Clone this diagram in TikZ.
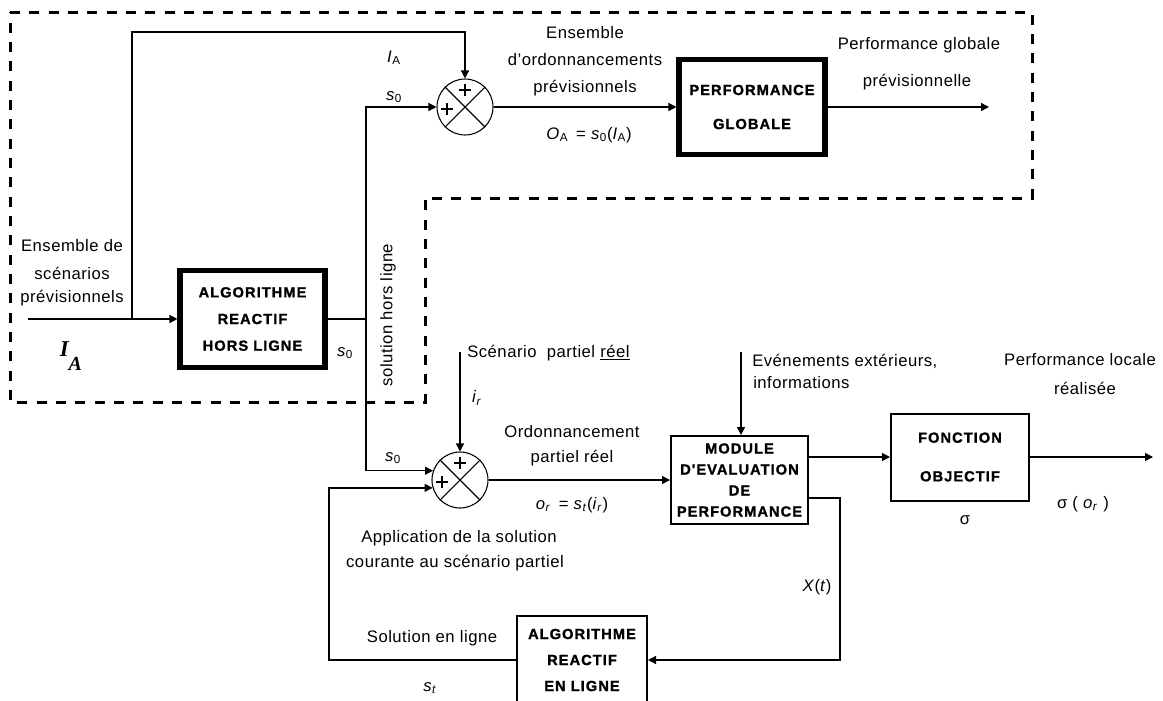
\documentclass[tikz,border=0pt]{standalone}
\usepackage{fontspec}
\setmainfont{Liberation Sans}[LetterSpace=3.0]
\newfontfamily\boxfont{Liberation Sans Bold}[LetterSpace=7.0, FakeBold=1.2]
\newfontfamily\serifbi{Liberation Serif}
\usetikzlibrary{arrows.meta,calc}
\newcommand\vsb[2]{\textit{#1}\textsubscript{#2}}
\tikzset{
  conn/.style={line width=1pt, -{Triangle[length=6pt,width=6pt]}},
  wire/.style={line width=1pt},
  thickbox/.style={draw, line width=3.8pt, align=center, inner sep=0pt},
  thinbox/.style={draw, line width=1.5pt, align=center, inner sep=0pt},
  bfont/.style={font=\boxfont\fontsize{11}{#1}\selectfont},
  sumnode/.style={circle, draw, line width=0.8pt, minimum size=42pt, inner sep=0pt},
  lbl/.style={font=\fontsize{12.5}{15}\selectfont, inner sep=0pt},
  boundary/.style={line width=2.25pt, dash pattern=on 7.5pt off 7pt},
  plusmark/.style={line width=0.9pt},
}
\begin{document}
\begin{tikzpicture}[x=0.75pt,y=-0.75pt]
\clip (0,0) rectangle (1163,700);
\fill[white] (0,0) rectangle (1163,700);

% dashed boundary
\draw[boundary] (10,12) -- (1032,12) -- (1032,198) -- (425,198) -- (425,402) -- (10,402) -- cycle;

% summing junctions
\node[sumnode] (sumA) at (465,107) {};
\node[sumnode] (sumB) at (460,480) {};
\foreach \s in {sumA,sumB}{
  \draw[line width=0.8pt] (\s.45) -- (\s.225) (\s.135) -- (\s.315);
  \draw[plusmark] ($(\s)+(-6,-17)$) -- ($(\s)+(6,-17)$) ($(\s)+(0,-23)$) -- ($(\s)+(0,-11)$);
  \draw[plusmark] ($(\s)+(-24,2)$) -- ($(\s)+(-12,2)$) ($(\s)+(-18,-4)$) -- ($(\s)+(-18,8)$);
}

% boxes
\node[thickbox, bfont=25.5pt, minimum width=109.5pt, minimum height=71.25pt] (perf) at (752,107) {PERFORMANCE\\GLOBALE};
\node[thickbox, bfont=20pt, minimum width=108.75pt, minimum height=72.75pt] (hl) at (252.5,319) {ALGORITHME\\REACTIF\\HORS LIGNE};
\node[thinbox, bfont=15.75pt, minimum width=102.75pt, minimum height=66pt] (module) at (739.5,480) {MODULE\\D'EVALUATION\\DE\\PERFORMANCE};
\node[thinbox, bfont=29pt, minimum width=103.5pt, minimum height=65.25pt] (fn) at (960,457) {FONCTION\\OBJECTIF};
\node[thinbox, bfont=19.5pt, minimum width=97.5pt, minimum height=66pt] (online) at (582,660) {ALGORITHME\\REACTIF\\EN LIGNE};

% coordinates
\coordinate (inA) at (28,319);
\coordinate (brA) at (132,319);
\coordinate (topR) at (465,32);
\coordinate (j1) at (366,319);
\coordinate (out1) at (989,107);
\coordinate (scTop) at (460,352);
\coordinate (evTop) at (741,352);
\coordinate (out2) at (1153,457);
\coordinate (xs) at (808,498);
\coordinate (xcorner) at (840,580);
\coordinate (fbc) at (329,560);

% connectors
\draw[conn] (inA) -- (hl.west);
\draw[conn] (brA) |- (topR) -- (sumA.north);
\draw[wire] (hl.east) -- (j1);
\draw[conn] (j1) |- (sumA.west);
\draw[conn] (j1) |- (sumB.161.3);
\draw[conn] (sumA.east) -- (perf.west);
\draw[conn] (perf.east) -- (out1);
\draw[conn] (scTop) -- (sumB.north);
\draw[conn] (sumB.east) -- (module.west);
\draw[conn] (evTop) -- (evTop |- module.north);
\draw[conn] (fn.west -| module.east) -- (fn.west);
\draw[conn] (fn.east) -- (out2);
\draw[conn] (xs) -| (xcorner) |- (online.east);
\draw[conn] (online.west) -| (fbc) |- (sumB.196.6);

% labels
\node[lbl] (lIA) at (394,58) {\vsb{I}{A}};
\node[lbl] (ls0a) at (394,97) {\vsb{s}{0}};
\node[lbl] (lens1) at (585,33) {Ensemble};
\node[lbl] (lens2) at (585,60) {d'ordonnancements};
\node[lbl] (lens3) at (585,88) {prévisionnels};
\node[lbl] (lOA) at (589,135) {\vsb{O}{A}\ \,= \vsb{s}{0}(\vsb{I}{A})};
\node[lbl] (lpg1) at (919,45) {Performance globale};
\node[lbl] (lpg2) at (917,82) {prévisionnelle};
\node[lbl] (lsc1) at (72,246) {Ensemble de};
\node[lbl] (lsc2) at (72,273) {scénarios};
\node[lbl] (lsc3) at (72,298) {prévisionnels};
\node[inner sep=0pt, font=\serifbi\bfseries\itshape\fontsize{17}{17}\selectfont] (lbigIA) at (71,356) {I\raisebox{-11pt}{\fontsize{15}{15}\selectfont A}};
\node[lbl] (ls0b) at (345,353) {\vsb{s}{0}};
\node[lbl, rotate=90] (lsol) at (388,315) {solution hors ligne};
\node[lbl, anchor=west] (lscen) at (467,353) {Scénario\ \ partiel \underline{réel}};
\node[lbl] (lir) at (477,398) {\vsb{i}{\textit{r}}};
\node[lbl] (ls0c) at (393,458) {\vsb{s}{0}};
\node[lbl] (lord1) at (572,432) {Ordonnancement};
\node[lbl] (lord2) at (572,458) {partiel réel};
\node[lbl] (lor) at (572,505) {\vsb{o}{\textit{r}}\ \,= \vsb{s}{\textit{t}}(\vsb{i}{\textit{r}})};
\node[lbl] (lapp1) at (459,538) {Application de la solution};
\node[lbl] (lapp2) at (455,563) {courante au scénario partiel};
\node[lbl, anchor=west] (lev1) at (752,361) {Evénements extérieurs,};
\node[lbl, anchor=west] (lev2) at (753,383) {informations};
\node[lbl] (lpl1) at (1080,360) {Performance locale};
\node[lbl] (lpl2) at (1085,388) {réalisée};
\node[lbl] (lsig) at (965,520) {σ};
\node[lbl] (lsigo) at (1083,504) {σ ( \vsb{o}{\textit{r}} )};
\node[lbl] (lXt) at (817,587) {\textit{X}(\textit{t})};
\node[lbl] (lsl) at (432,638) {Solution en ligne};
\node[lbl] (lst) at (430,688) {\vsb{s}{\textit{t}}};
\end{tikzpicture}
\end{document}
